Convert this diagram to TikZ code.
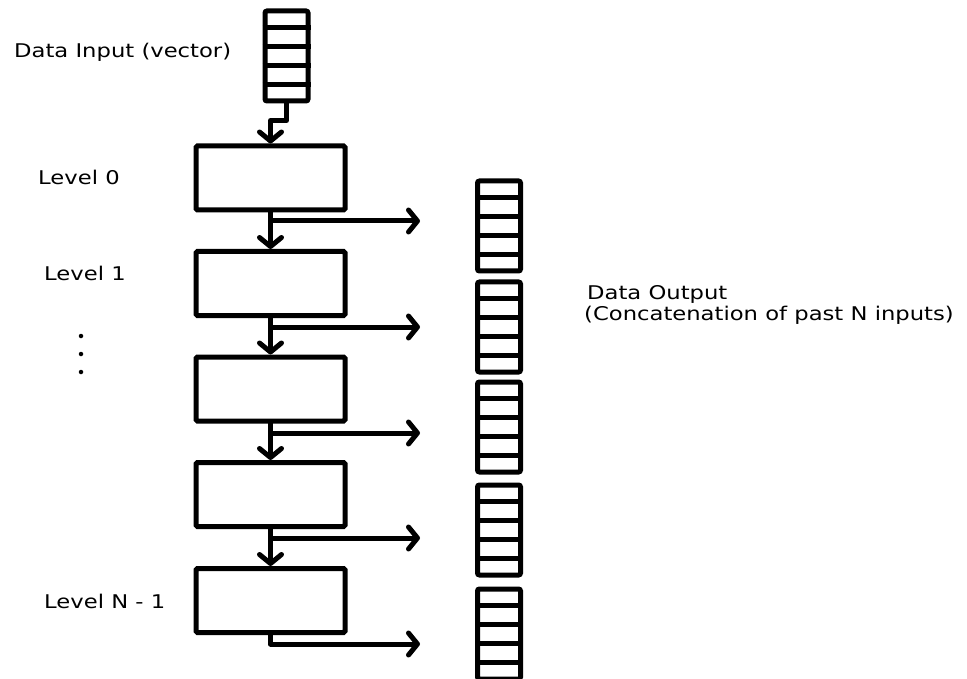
\documentclass[tikz,border=0pt]{standalone}
\usepackage{fontspec}
\setmainfont[FakeStretch=1.2]{DejaVu Sans}
\usetikzlibrary{arrows.meta,calc}

\tikzset{
  wire/.style={line width=5pt, line join=round, line cap=round},
  flow/.style={wire, -{Straight Barb[length=9pt,width=22pt,line cap=round,line join=round]}},
  levelbox/.style={draw, line width=5pt, rounded corners=1.5pt, minimum width=149pt,
    minimum height=64pt, inner sep=0pt},
  vecbox/.style={draw, line width=5pt, rounded corners=2pt, minimum width=43pt,
    minimum height=90pt, inner sep=0pt},
  lbl/.style={anchor=base west, inner sep=0pt, font=\fontsize{18.9}{21}\selectfont},
  dotmark/.style={circle, fill, inner sep=0pt, minimum size=4.5pt}
}

% vector of five cells: outer frame plus four dividers
\newcommand\cellstack[2]{%
  \node[vecbox] (#1) at (#2) {};
  \foreach \k in {1,...,4}
    \draw[line width=5pt] ($(#1.north west)!\k/5!(#1.south west)$) --
                          ($(#1.north east)!\k/5!(#1.south east)$);
}

\begin{document}
\begin{tikzpicture}[x=1pt, y=-1pt]
\useasboundingbox (0,0) rectangle (967,679);

% input vector
\cellstack{vin}{286.5,56}

% processing levels
\node[levelbox] (b0) at (270.5,178) {};
\node[levelbox] (b1) at (270.5,283.5) {};
\node[levelbox] (b2) at (270.5,389) {};
\node[levelbox] (b3) at (270.5,494.5) {};
\node[levelbox] (b4) at (270.5,600.5) {};

% output vectors
\cellstack{v0}{499,226}
\cellstack{v1}{499,327}
\cellstack{v2}{499,427}
\cellstack{v3}{499,530}
\cellstack{v4}{499,634}

% arrow ends of the branches
\coordinate (e0) at (420,221);
\coordinate (e1) at (420,327);
\coordinate (e2) at (420,433);
\coordinate (e3) at (420,538);
\coordinate (e4) at (420,644);

% input to level 0
\draw[flow] (vin.south) -- ++(0,17) -| (b0.north);

% level to level
\draw[flow] (b0.south) -- (b1.north);
\draw[flow] (b1.south) -- (b2.north);
\draw[flow] (b2.south) -- (b3.north);
\draw[flow] (b3.south) -- (b4.north);

% branches to the outputs
\draw[flow] (b0.south |- e0) -- (e0);
\draw[flow] (b1.south |- e1) -- (e1);
\draw[flow] (b2.south |- e2) -- (e2);
\draw[flow] (b3.south |- e3) -- (e3);
\draw[flow] (b4.south) |- (e4);

% labels
\node[lbl] (tin) at (14,58) {Data Input (vector)};
\node[lbl] (t0) at (38,185) {Level 0};
\node[lbl] (t1) at (44,280) {Level 1};
\node[lbl] (tn) at (44,608) {Level N - 1};
\node[lbl] (tout1) at (587,300) {Data Output};
\node[lbl] (tout2) at (584,320) {(Concatenation of past N inputs)};

% ellipsis between levels
\node[dotmark] (d1) at (81,336) {};
\node[dotmark] (d2) at (81,354) {};
\node[dotmark] (d3) at (81,372) {};
\end{tikzpicture}
\end{document}
